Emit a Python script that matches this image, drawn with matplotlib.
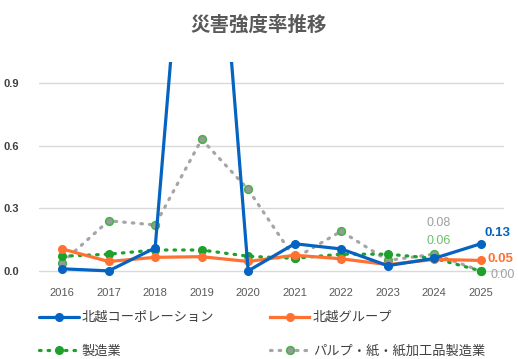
import numpy as np
import matplotlib.pyplot as plt

plt.rcParams['font.family'] = ['Noto Sans CJK JP', 'DejaVu Sans']

# Dati
anni = [2016, 2017, 2018, 2019, 2020, 2021, 2022, 2023, 2024, 2025]
hokuetsu_corp = [0.01, 0.00, 0.11, 2.80, 0.00, 0.13, 0.105, 0.025, 0.06, 0.13]
hokuetsu_group = [0.105, 0.045, 0.065, 0.068, 0.045, 0.075, 0.058, 0.03, 0.055, 0.05]
seizougyou = [0.07, 0.08, 0.10, 0.10, 0.07, 0.06, 0.08, 0.08, 0.06, 0.00]
pulp_kami = [0.04, 0.24, 0.22, 0.63, 0.39, 0.06, 0.19, 0.05, 0.08, 0.00]
nomi = ['北越コーポレーション', '北越グループ', '製造業', 'パルプ・紙・紙加工品製造業']

blu = '#0563C1'
arancio = '#FF7131'
verde = '#1FA02C'
grigio = '#A5A5A5'

fig = plt.figure(figsize=(5.18, 3.59), dpi=100)
ax = fig.add_axes([0.075, 0.228, 0.898, 0.599])

l1, = ax.plot(anni, hokuetsu_corp, color=blu, lw=2.3, marker='o', ms=5.5,
              solid_capstyle='round', zorder=5)
l2, = ax.plot(anni, hokuetsu_group, color=arancio, lw=2.3, marker='o', ms=5.5,
              zorder=4)
l3, = ax.plot(anni, seizougyou, color=verde, lw=2.3, ls=(0, (0.5, 2.2)),
              dash_capstyle='round', marker='o', ms=5.5, zorder=3)
l4, = ax.plot(anni, pulp_kami, color=grigio, lw=2.3, ls=(0, (0.5, 2.2)),
              dash_capstyle='round', marker='o', ms=5.5, mfc='#999999',
              mec='#4CB04C', mew=1.2, zorder=2)

# Etichette dati
ax.text(2024.1, 0.23, '0.08', color='#A0A0A0', fontsize=9,
        ha='center', va='center', family=['Liberation Sans'])
ax.text(2024.1, 0.145, '0.06', color='#6CC06C', fontsize=9,
        ha='center', va='center', family=['Liberation Sans'])
ax.text(2025.08, 0.18, '0.13', color=blu, fontsize=9.5, fontweight='bold',
        ha='left', va='center', family=['Liberation Sans'])
ax.text(2025.15, 0.055, '0.05', color=arancio, fontsize=9.5, fontweight='bold',
        ha='left', va='center', family=['Liberation Sans'])
ax.text(2025.22, -0.018, '0.00', color='#A0A0A0', fontsize=9,
        ha='left', va='center', family=['Liberation Sans'])

ax.set_xlim(2015.5, 2025.5)
ax.set_ylim(-0.03, 1.0)
ax.set_yticks([0.0, 0.3, 0.6, 0.9])
ax.set_yticklabels(['0.0', '0.3', '0.6', '0.9'], fontsize=8, color='#404040',
                   fontweight='bold', family=['Liberation Sans'])
ax.set_xticks(anni)
ax.set_xticklabels([str(a) for a in anni], fontsize=8, color='#595959',
                   family=['Liberation Sans'])
ax.tick_params(length=0, pad=8)
ax.tick_params(axis='y', pad=14)
for s in ax.spines.values():
    s.set_visible(False)
ax.grid(axis='y', color='#D9D9D9', lw=1)
ax.set_axisbelow(True)

fig.text(0.5, 0.93, '災害強度率推移', ha='center', va='center', fontsize=14,
         color='#595959', fontweight='bold')

fig.legend([l1, l3, l2, l4], [nomi[0], nomi[2], nomi[1], nomi[3]],
           loc='upper left', bbox_to_anchor=(0.065, 0.148),
           ncol=2, frameon=False, fontsize=9.5, handlelength=3.0,
           handletextpad=0.25, columnspacing=4.2, labelspacing=1.55,
           borderaxespad=0, labelcolor='#404040')

fig.savefig('out.png', dpi=100)
